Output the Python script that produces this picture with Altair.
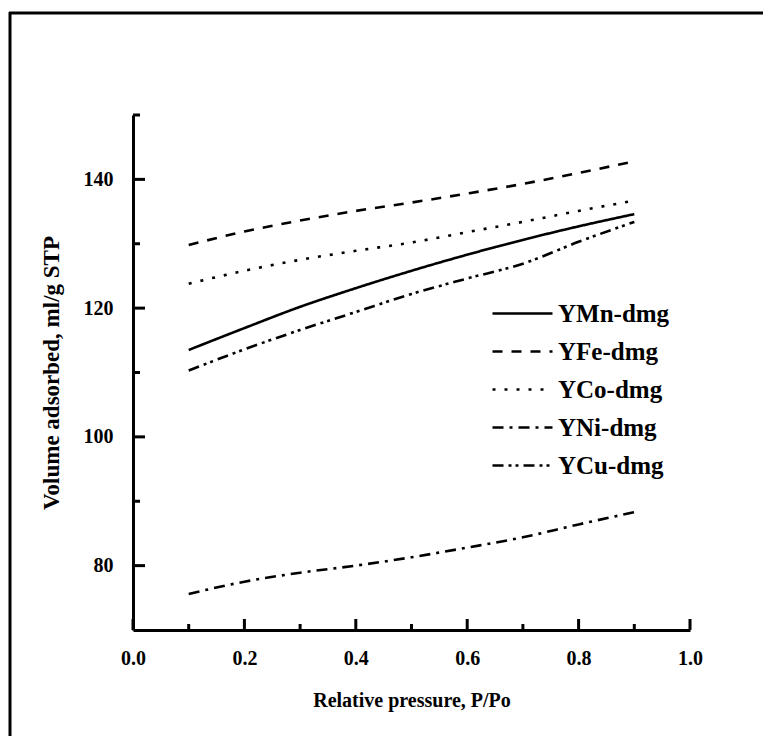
import altair as alt
import pandas as pd

# ---- data ----
series = ["YMn-dmg", "YFe-dmg", "YCo-dmg", "YNi-dmg", "YCu-dmg"]
pressure = [0.1, 0.2, 0.3, 0.4, 0.5, 0.6, 0.7, 0.8, 0.9]
ymn = [113.5, 116.9, 120.2, 123.1, 125.8, 128.3, 130.6, 132.7, 134.6]
yfe = [129.8, 131.9, 133.6, 135.1, 136.4, 137.8, 139.3, 141.0, 142.8]
yco = [123.8, 125.8, 127.5, 128.9, 130.2, 131.8, 133.4, 135.1, 136.7]
yni = [75.6, 77.5, 78.9, 80.0, 81.3, 82.8, 84.4, 86.4, 88.3]
ycu = [110.3, 113.6, 116.6, 119.4, 122.2, 124.6, 126.9, 130.3, 133.4]
values = [ymn, yfe, yco, yni, ycu]

x_labels = [0.0, 0.2, 0.4, 0.6, 0.8, 1.0]
x_minor = [0.1, 0.3, 0.5, 0.7, 0.9]
y_labels = [80, 100, 120, 140]
y_minor = [90, 110, 130, 150]

rows = []
for name, vals in zip(series, values):
    for p, v in zip(pressure, vals):
        rows.append({"series": name, "p": p, "v": v})
df = pd.DataFrame(rows)

dashes = [[1, 0], [10, 9], [3, 9], [11, 6, 3, 6], [11, 5, 3, 4, 3, 5]]

W, H = 557, 515
FONT = "Liberation Serif"

xscale = alt.Scale(domain=[0, 1], nice=False, zero=False)
yscale = alt.Scale(domain=[70, 150], nice=False, zero=False)

lines = alt.Chart(df).mark_line(color="black", strokeWidth=2.6, interpolate="monotone").encode(
    x=alt.X("p:Q", scale=xscale,
            axis=alt.Axis(values=x_labels, format=".1f", ticks=False, grid=False,
                          domainWidth=3, domainColor="black",
                          labelFont=FONT, labelFontSize=20, labelFontWeight="bold",
                          labelColor="black", labelPadding=18, labelFlush=False,
                          title="Relative pressure, P/Po", titleFont=FONT,
                          titleFontSize=20, titleFontWeight="bold", titleColor="black",
                          titlePadding=22)),
    y=alt.Y("v:Q", scale=yscale,
            axis=alt.Axis(values=y_labels, format="d", ticks=False, grid=False,
                          domainWidth=3, domainColor="black",
                          labelFont=FONT, labelFontSize=20, labelFontWeight="bold",
                          labelColor="black", labelPadding=20, labelFlush=False,
                          title="Volume adsorbed, ml/g STP", titleFont=FONT,
                          titleFontSize=23, titleFontWeight="bold", titleColor="black",
                          titlePadding=20)),
    strokeDash=alt.StrokeDash("series:N", sort=series,
                              scale=alt.Scale(domain=series, range=dashes),
                              legend=alt.Legend(title=None, orient="none",
                                                legendX=373, legendY=182,
                                                symbolType="M-2,0H2", symbolSize=900,
                                                symbolStrokeWidth=2.4,
                                                symbolStrokeColor="black",
                                                labelFont=FONT, labelFontSize=25,
                                                labelFontWeight="bold", labelColor="black",
                                                labelOffset=19, rowPadding=8)),
)

xt_major = alt.Chart(pd.DataFrame({"p": x_labels})).mark_rule(color="black", strokeWidth=3).encode(
    x=alt.X("p:Q", scale=xscale), y=alt.value(H), y2=alt.value(H - 11))
xt_minor = alt.Chart(pd.DataFrame({"p": x_minor})).mark_rule(color="black", strokeWidth=3).encode(
    x=alt.X("p:Q", scale=xscale), y=alt.value(H), y2=alt.value(H - 6))
yt_major = alt.Chart(pd.DataFrame({"v": y_labels})).mark_rule(color="black", strokeWidth=3).encode(
    y=alt.Y("v:Q", scale=yscale), x=alt.value(0), x2=alt.value(12))
yt_minor = alt.Chart(pd.DataFrame({"v": y_minor})).mark_rule(color="black", strokeWidth=3).encode(
    y=alt.Y("v:Q", scale=yscale), x=alt.value(0), x2=alt.value(7))

one = pd.DataFrame({"a": [0]})
frame_left = alt.Chart(one).mark_rule(color="black", strokeWidth=3).encode(
    x=alt.value(-123), y=alt.value(-103), y2=alt.value(640))
frame_top = alt.Chart(one).mark_rule(color="black", strokeWidth=3).encode(
    y=alt.value(-102), x=alt.value(-124), x2=alt.value(650))

chart = alt.layer(lines, xt_major, xt_minor, yt_major, yt_minor, frame_left, frame_top).properties(
    width=W, height=H,
    autosize=alt.AutoSizeParams(type="none"),
    padding={"left": 133, "top": 115, "right": 73, "bottom": 106},
    background="white",
).configure_view(stroke=None)

chart.save("out.html", embed_options={"renderer": "svg", "actions": False})
